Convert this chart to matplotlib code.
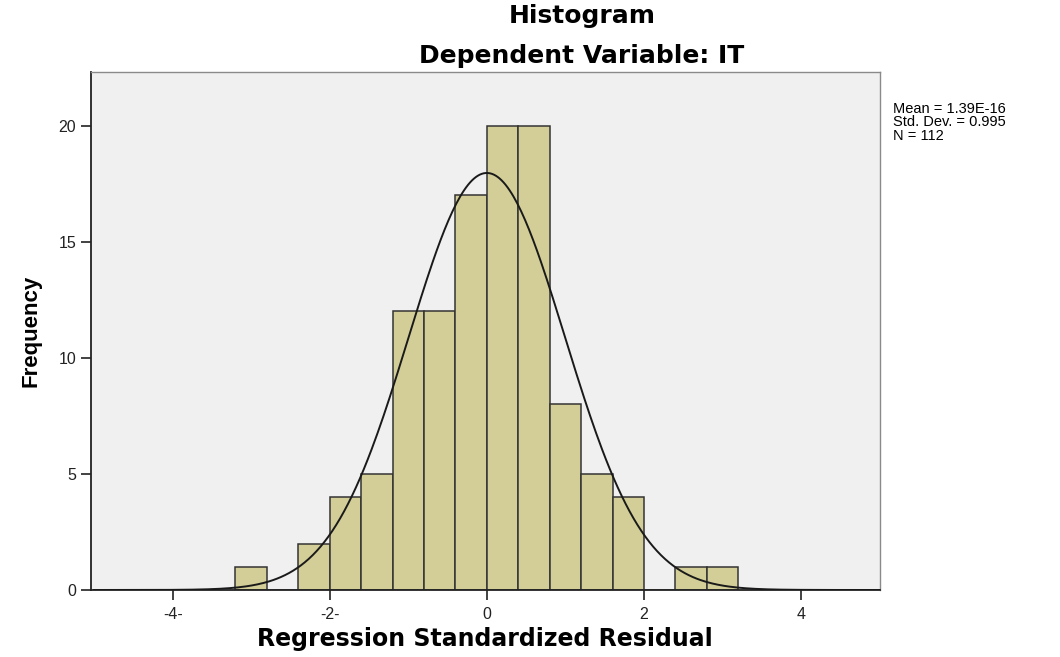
import numpy as np
import matplotlib
matplotlib.use("Agg")
import matplotlib.pyplot as plt

# histogram of regression standardized residuals (bin width 0.4)
bin_edges = [-3.2, -2.8, -2.4, -2.0, -1.6, -1.2, -0.8, -0.4, 0.0,
             0.4, 0.8, 1.2, 1.6, 2.0, 2.4, 2.8, 3.2]
counts = [1, 0, 2, 4, 5, 12, 12, 17, 20, 20, 8, 5, 4, 0, 1, 1]
mean = 1.39e-16
std = 0.995
n = 112
xticks = [-4, -2, 0, 2, 4]
xtick_labels = ["-4-", "-2-", "0", "2", "4"]
yticks = [0, 5, 10, 15, 20]

plt.rcParams['font.family'] = ['Liberation Sans', 'DejaVu Sans']
wide = ['DejaVu Sans']

fig = plt.figure(figsize=(10.6, 6.57), dpi=100)
ax = fig.add_axes([0.0858, 0.102, 0.744, 0.788])
ax.set_facecolor("#f0f0f0")

edges = np.array(bin_edges)
widths = np.diff(edges)
ax.bar(edges[:-1], counts, width=widths, align="edge",
       color="#d3ce97", edgecolor="#333333", linewidth=1.1, zorder=2)

# fitted normal curve
xs = np.linspace(-5, 5, 400)
w = widths[0]
ys = n * w / (std * np.sqrt(2 * np.pi)) * np.exp(-0.5 * ((xs - mean) / std) ** 2)
ax.plot(xs, ys, color="#1a1a1a", linewidth=1.4, zorder=3)

ax.set_xlim(-5.04, 5.0)
ax.set_ylim(0, 22.3)
ax.set_xticks(xticks)
ax.set_xticklabels(xtick_labels)
ax.set_yticks(yticks)
ax.tick_params(axis="both", direction="out", length=7, width=1.2,
               labelsize=11.5, colors="#222222")
ax.tick_params(axis="x", pad=5)
for s in ["left", "bottom"]:
    ax.spines[s].set_color("#222222")
    ax.spines[s].set_linewidth(1.3)
for s in ["top", "right"]:
    ax.spines[s].set_color("#8a8a8a")
    ax.spines[s].set_linewidth(1.0)

ax.set_xlabel("Regression Standardized Residual", fontsize=17,
              fontweight="bold", labelpad=4, family=wide)
ax.set_ylabel("Frequency", fontsize=16, fontweight="bold", labelpad=12,
              family=["Liberation Sans Narrow", "Liberation Sans", "DejaVu Sans"])

fig.text(0.549, 0.975, "Histogram", ha="center", va="center",
         fontsize=18, fontweight="bold", family=wide)
fig.text(0.549, 0.915, "Dependent Variable: IT", ha="center", va="center",
         fontsize=18, fontweight="bold", family=wide)

fig.text(0.842, 0.845,
         "Mean = 1.39E-16\nStd. Dev. = 0.995\nN = 112",
         ha="left", va="top", fontsize=10.5, linespacing=0.95)

fig.savefig("out.png", dpi=100)
